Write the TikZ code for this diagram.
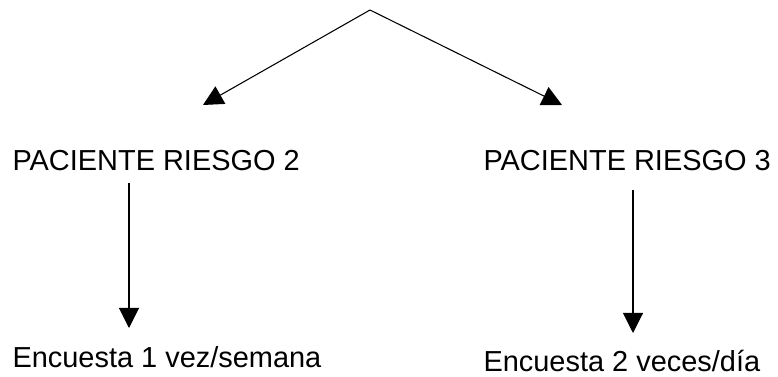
\documentclass[tikz,border=0pt]{standalone}
\usepackage{fontspec}
\setmainfont{Liberation Sans}
\usetikzlibrary{arrows.meta}

\begin{document}
\begin{tikzpicture}[x=0.75pt, y=-0.75pt, >={Triangle[length=15pt, width=15pt]}, line width=0.8pt]
    \tikzstyle{every node}=[inner sep=0pt, anchor=base west, font=\fontsize{21.7}{26}\selectfont]
    \useasboundingbox (0,0) rectangle (778,377);

% Two risk levels and the survey frequency of each

    \coordinate (top) at (370,10);
    \coordinate (r2in) at (203,105);
    \coordinate (r3in) at (562,105);
    \coordinate (r2out) at (129,183);
    \coordinate (r3out) at (633,190);
    \coordinate (e2in) at (129,328);
    \coordinate (e3in) at (633,333);

    \node (riesgo2) at (12,171) {PACIENTE RIESGO 2};
    \node (riesgo3) at (483,171) {PACIENTE RIESGO 3};
    \node (enc2) at (12,368) {Encuesta 1 vez/semana};
    \node (enc3) at (483,372) {Encuesta 2 veces/día};

    \draw[->] (top) -- (r2in);
    \draw[->] (top) -- (r3in);
    \draw[->] (r2out) -- (e2in);
    \draw[->] (r3out) -- (e3in);

\end{tikzpicture}
\end{document}
